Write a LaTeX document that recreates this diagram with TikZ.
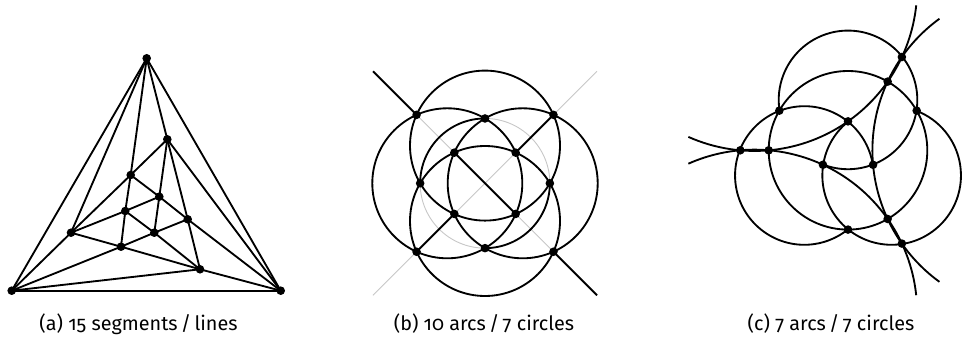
\documentclass[tikz,border=0pt]{standalone}
\usepackage{fontspec}
\setmainfont{Fira Sans}[Numbers=OldStyle]
\begin{document}
\begin{tikzpicture}[x=1pt,y=1pt,
  edge/.style={line width=1.85pt},
  dot/.style={circle,fill=black,inner sep=0pt,minimum size=8.6pt},
  guide/.style={line width=0.9pt,draw=black!22},
  caption/.style={font=\fontsize{19.8}{22}\selectfont, anchor=base}]
\useasboundingbox (0,0) rectangle (963,342);

% ---------- panel (a) ----------
\node[dot] (T)  at (146.7,283.7) {};
\node[dot] (BL) at (11.7,51.3) {};
\node[dot] (BR) at (280.7,51.3) {};
\node[dot] (P1) at (167.3,202.7) {};
\node[dot] (P2) at (130.7,167) {};
\node[dot] (P3) at (159.3,145.3) {};
\node[dot] (P4) at (125.3,131) {};
\node[dot] (P5) at (187.7,122.7) {};
\node[dot] (P6) at (71,109.3) {};
\node[dot] (P7) at (154.3,109.3) {};
\node[dot] (P8) at (121,95.3) {};
\node[dot] (P9) at (200,72.7) {};
\foreach \a/\b in {T/BL,T/BR,BL/BR,T/P6,T/P2,T/P1,
  BL/P6,BL/P8,BL/P9,BR/P1,BR/P5,BR/P9,
  P1/P2,P1/P3,P1/P5,P2/P6,P2/P4,P2/P3,
  P3/P5,P3/P4,P3/P7,P4/P6,P4/P8,P4/P7,
  P5/P7,P5/P9,P6/P8,P7/P8,P7/P9,P8/P9}
  \draw[edge] (\a.center) -- (\b.center);

% ---------- panel (b) ----------
\begin{scope}[shift={(485,158.7)}]
  \draw[guide] (-112,112) -- (112,-112);
  \draw[guide] (-112,-112) -- (112,112);
  \draw[guide] (0,0) circle[radius=64.84pt];
  \draw[edge] (0,37.7) circle[radius=75pt];
  \draw[edge] (0,-37.7) circle[radius=75pt];
  \draw[edge] (-37.7,0) circle[radius=75pt];
  \draw[edge] (37.7,0) circle[radius=75pt];
  \draw[edge] (90:64.84) arc[start angle=90,end angle=180,radius=64.84pt];
  \draw[edge] (270:64.84) arc[start angle=270,end angle=360,radius=64.84pt];
  \draw[edge] (-112,112) -- (-68.45,68.45);
  \draw[edge] (68.45,-68.45) -- (112,-112);
  \draw[edge] (-30.65,30.65) -- (30.65,-30.65);
  \draw[edge] (30.65,30.65) -- (68.45,68.45);
  \draw[edge] (-30.65,-30.65) -- (-68.45,-68.45);
  \foreach \p/\q [count=\i] in {68.45/68.45,-68.45/68.45,68.45/-68.45,-68.45/-68.45,
     30.65/30.65,-30.65/30.65,30.65/-30.65,-30.65/-30.65,
     0/64.84,0/-64.84,64.84/0,-64.84/0}
    \node[dot] (b\i) at (\p,\q) {};
\end{scope}

% ---------- panel (c) ----------
\begin{scope}[shift={(848,191.7)}]
  % central circle
  \draw[edge] (0,0) circle[radius=79.3pt];
  % three large circles
  \draw[edge] ([shift={(120:187)}]-114:162.6) arc[start angle=-114,end angle=-6,radius=162.6pt];
  \draw[edge] ([shift={(240:187)}]6:162.6) arc[start angle=6,end angle=114,radius=162.6pt];
  \draw[edge] ([shift={(0:187)}]126:162.6) arc[start angle=126,end angle=234,radius=162.6pt];
  % three medium circles, 300 degree arcs
  \draw[edge] ([shift={(90:50.4)}]-111.1:69.3) arc[start angle=-111.1,end angle=188.9,radius=69.3pt];
  \draw[edge] ([shift={(210:50.4)}]8.9:69.3) arc[start angle=8.9,end angle=308.9,radius=69.3pt];
  \draw[edge] ([shift={(330:50.4)}]-231.1:69.3) arc[start angle=-231.1,end angle=68.9,radius=69.3pt];
  % vertices
  \node[dot] (cF) at (180:107.7) {};
  \node[dot] (cA) at (60:107.7) {};
  \node[dot] (cL) at (-60:107.7) {};
  \node[dot] (cG) at (180:79.3) {};
  \node[dot] (cB) at (60:79.3) {};
  \node[dot] (cJ) at (-60:79.3) {};
  \node[dot] (cD) at (150:79.3) {};
  \node[dot] (cC) at (30:79.3) {};
  \node[dot] (cK) at (270:79.3) {};
  \node[dot] (cE) at (90:28.95) {};
  \node[dot] (cH) at (210:28.95) {};
  \node[dot] (cI) at (330:28.95) {};
\end{scope}

% ---------- captions ----------
\node[caption] (capa) at (138.5,11) {(a) 15 segments\,/\,lines};
\node[caption] (capb) at (484,11) {(b) 10 arcs\,/\,7 circles};
\node[caption] (capc) at (831,11) {(c) 7 arcs\,/\,7 circles};
\end{tikzpicture}
\end{document}
